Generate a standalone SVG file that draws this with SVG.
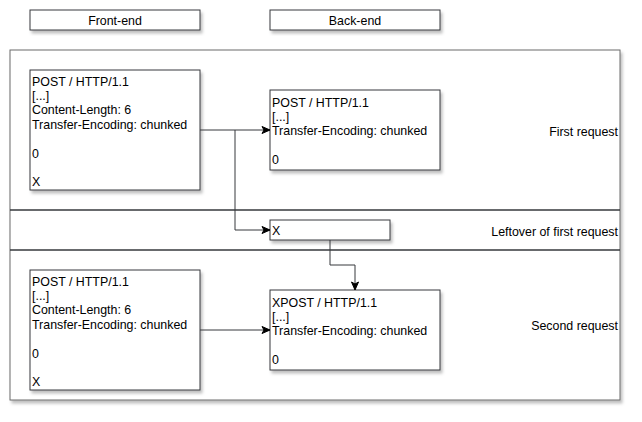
<svg xmlns="http://www.w3.org/2000/svg" width="642" height="422" viewBox="0 0 642 422">
<style>
.box{fill:#fff;stroke:#36393d;stroke-width:1;filter:url(#sh)}
.frame{fill:#fff;stroke:#6b6b6b;stroke-width:1;filter:url(#sh)}
.div{stroke:#36393d;stroke-width:1.5;fill:none}
text{font-family:"Liberation Sans",Arial,Helvetica,sans-serif;font-size:12.4px;fill:#000}
.c{text-anchor:middle}
.r{text-anchor:end}
.con path{fill:none;stroke:#36393d;stroke-width:1;marker-end:url(#arr)}
</style>
<defs>
<filter id="sh" x="-10%" y="-10%" width="130%" height="140%">
<feDropShadow dx="2" dy="3" stdDeviation="1.5" flood-color="#000" flood-opacity="0.25"/>
</filter>
<marker id="arr" markerUnits="userSpaceOnUse" markerWidth="10" markerHeight="10" viewBox="0 0 10 10" refX="9" refY="5" orient="auto">
<path d="M1,1.5 L9,5 L1,8.5 L3,5 Z" fill="#000" stroke="#000" stroke-width="1"/>
</marker>
</defs>
<g id="header-frontend"><rect class="box" x="30" y="10" width="170" height="20"/><text class="c" x="115" y="24.5">Front-end</text></g>
<g id="header-backend"><rect class="box" x="270" y="10" width="170" height="20"/><text class="c" x="355" y="24.5">Back-end</text></g>
<g id="container">
<rect class="frame" x="10" y="50" width="610" height="350"/>
<line class="div" x1="10" y1="210" x2="620" y2="210"/>
<line class="div" x1="10" y1="250" x2="620" y2="250"/>
<text class="r" x="618" y="135.5">First request</text>
<text class="r" x="618" y="235.5">Leftover of first request</text>
<text class="r" x="618" y="330">Second request</text>
</g>
<g id="req1-front"><rect class="box" x="30" y="70" width="170" height="120"/>
<text x="32" y="85.5">POST / HTTP/1.1</text><text x="32" y="99.9">[...]</text><text x="32" y="114.3">Content-Length: 6</text><text x="32" y="128.7">Transfer-Encoding: chunked</text><text x="32" y="157.5">0</text><text x="32" y="186.3">X</text></g>
<g id="req1-back"><rect class="box" x="270" y="90" width="170" height="80"/>
<text x="272" y="106.6">POST / HTTP/1.1</text><text x="272" y="121">[...]</text><text x="272" y="135.4">Transfer-Encoding: chunked</text><text x="272" y="164.2">0</text></g>
<g id="leftover"><rect class="box" x="270" y="220" width="120" height="20"/><text x="272" y="234.5">X</text></g>
<g id="req2-front"><rect class="box" x="30" y="270" width="170" height="120"/>
<text x="32" y="285.5">POST / HTTP/1.1</text><text x="32" y="299.9">[...]</text><text x="32" y="314.3">Content-Length: 6</text><text x="32" y="328.7">Transfer-Encoding: chunked</text><text x="32" y="357.5">0</text><text x="32" y="386.3">X</text></g>
<g id="req2-back"><rect class="box" x="270" y="290" width="170" height="80"/>
<text x="272" y="306.6">XPOST / HTTP/1.1</text><text x="272" y="321">[...]</text><text x="272" y="335.4">Transfer-Encoding: chunked</text><text x="272" y="364.2">0</text></g>
<g id="connectors" class="con">
<path d="M200,130 L270,130"/>
<path d="M235,130 L235,230 L270,230"/>
<path d="M330,240 L330,265 L355,265 L355,290"/>
<path d="M200,330 L270,330"/>
</g>
</svg>
